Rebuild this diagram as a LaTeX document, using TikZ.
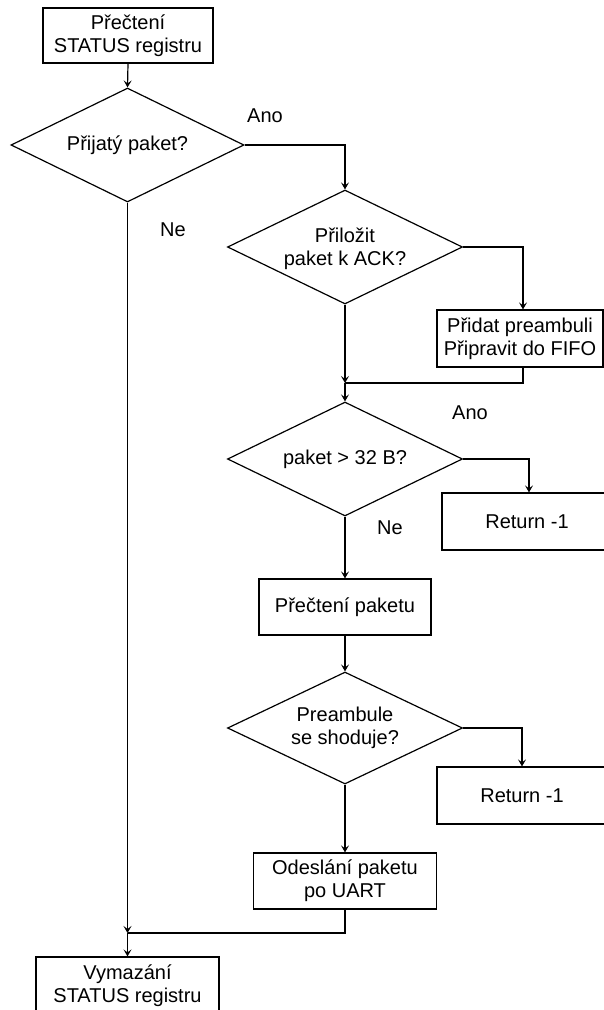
\documentclass[tikz,border=0pt]{standalone}
\usepackage{fontspec}
\setmainfont{Liberation Sans}
\usetikzlibrary{shapes.geometric,arrows.meta}
\begin{document}
\begin{tikzpicture}[x=1pt,y=-1pt,
  line width=1.2pt,
  every node/.style={font=\fontsize{20}{23}\selectfont},
  proc/.style={draw,rectangle,inner sep=0pt,align=center},
  dia/.style={draw,diamond,inner sep=0pt,minimum width=235pt,minimum height=114pt},
  txt/.style={align=center,inner sep=0pt},
  arr/.style={-{Stealth[length=7pt,width=8pt,inset=3pt]}},
  lbl/.style={inner sep=0pt}]
\useasboundingbox (0,0) rectangle (604,1010);
\clip (0,0) rectangle (604,1010);
% process boxes
\node[proc,minimum width=170pt,minimum height=55pt] (b1) at (128,35.5) {Přečtení\\STATUS registru};
\node[proc,minimum width=166pt,minimum height=57pt] (bp) at (520,338.5) {Přidat preambuli\\Připravit do FIFO};
\node[proc,minimum width=170pt,minimum height=57pt] (r1) at (527,521.5) {Return -1};
\node[proc,minimum width=172pt,minimum height=56pt] (b2) at (345,607) {Přečtení paketu};
\node[proc,minimum width=170pt,minimum height=57pt] (r2) at (522,795.5) {Return -1};
\node[proc,minimum width=183pt,minimum height=56pt] (b3) at (345,881) {Odeslání paketu\\po UART};
\node[proc,minimum width=183pt,minimum height=57pt] (b4) at (127.5,985.5) {Vymazání\\STATUS registru};
% decisions
\node[dia,minimum width=233pt] (d1) at (127.5,145) {};
\node[txt] at (d1) {Přijatý paket?};
\node[dia] (d2) at (345,247) {};
\node[txt] at ([yshift=-2pt]d2.center) {Přiložit\\paket k ACK?};
\node[dia] (d3) at (345,459) {};
\node[txt] at (d3) {paket > 32 B?};
\node[dia,minimum height=112pt] (d4) at (345,728) {};
\node[txt] at (d4) {Preambule\\se shoduje?};
% merge points
\coordinate (m1) at (345,383);
\coordinate (m2) at (127.5,933);
% labels
\node[lbl] (la1) at (265,116) {Ano};
\node[lbl] (ln1) at (173,230) {Ne};
\node[lbl] (la3) at (470,413) {Ano};
\node[lbl] (ln3) at (390,528) {Ne};
% connectors
\draw[arr] (b1.south) -- (d1.north);
\draw[arr] (d1.east) -| (d2.north);
\draw[arr] (d2.east) -| ([xshift=3pt]bp.north);
\draw[arr] (d2.south) -- (m1);
\draw ([xshift=3pt]bp.south) |- (m1);
\draw[arr] (m1) -- (d3.north);
\draw[arr] (d3.east) -| ([xshift=2pt]r1.north);
\draw[arr] (d3.south) -- (b2.north);
\draw[arr] (b2.south) -- (d4.north);
\draw[arr] (d4.east) -| (r2.north);
\draw[arr] (d4.south) -- (b3.north);
\draw (b3.south) |- (m2);
\draw[arr] (d1.south) -- (m2);
\draw[arr] (m2) -- (b4.north);
\end{tikzpicture}
\end{document}
